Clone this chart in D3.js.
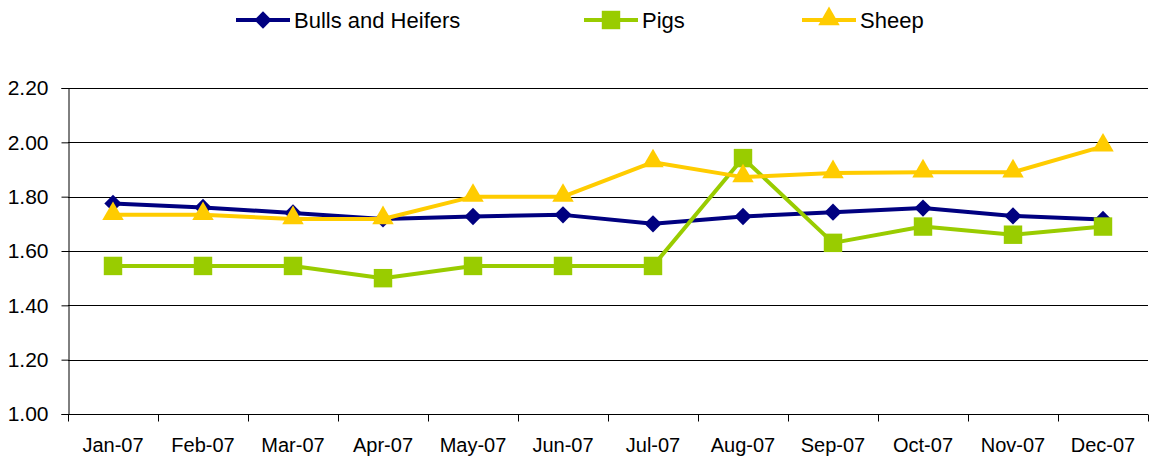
<!DOCTYPE html>
<html>
<head>
<meta charset="utf-8">
<script src="https://cdn.jsdelivr.net/npm/d3@7"></script>
<style>
  body { margin: 0; background: #fff; }
  text { font-family: "Liberation Sans", Arial, sans-serif; fill: #000; }
  .axis path, .axis line { stroke: #000; }
  .grid line { stroke: #000; stroke-width: 1px; }
</style>
</head>
<body>
<div id="chart"></div>
<script>
// data
const months = ['Jan-07', 'Feb-07', 'Mar-07', 'Apr-07', 'May-07', 'Jun-07',
  'Jul-07', 'Aug-07', 'Sep-07', 'Oct-07', 'Nov-07', 'Dec-07'];
const bulls = [1.775, 1.76, 1.74, 1.718, 1.727, 1.733, 1.70, 1.727, 1.743, 1.758, 1.729, 1.716];
const pigs = [1.545, 1.545, 1.545, 1.50, 1.545, 1.545, 1.545, 1.942, 1.63, 1.69, 1.66, 1.69];
const sheep = [1.733, 1.733, 1.718, 1.718, 1.80, 1.80, 1.927, 1.872, 1.887, 1.89, 1.89, 1.985];
const yTicks = [1.0, 1.2, 1.4, 1.6, 1.8, 2.0, 2.2];

const series = [
  { name: 'Bulls and Heifers', values: bulls, color: '#000080', shape: 'diamond', legendX: 236 },
  { name: 'Pigs', values: pigs, color: '#99CC00', shape: 'square', legendX: 584 },
  { name: 'Sheep', values: sheep, color: '#FFCC00', shape: 'triangle', legendX: 802 },
];

const WIDTH = 1154;
const HEIGHT = 460;
const MARGIN_LEFT = 68;
const MARGIN_RIGHT = 6;
const MARGIN_TOP = 88;
const MARGIN_BOTTOM = 46;

const $svg = d3.select('#chart').append('svg')
  .attr('width', WIDTH)
  .attr('height', HEIGHT);

const x = d3.scaleBand()
  .domain(months)
  .range([MARGIN_LEFT, WIDTH - MARGIN_RIGHT]);

const y = d3.scaleLinear()
  .domain([1.0, 2.2])
  .range([HEIGHT - MARGIN_BOTTOM, MARGIN_TOP]);

// gridlines
$svg.append('g').attr('class', 'grid')
  .selectAll('line')
  .data(yTicks.slice(1))
  .join('line')
  .attr('x1', MARGIN_LEFT)
  .attr('x2', WIDTH - MARGIN_RIGHT)
  .attr('y1', d => Math.round(y(d)) + 0.5)
  .attr('y2', d => Math.round(y(d)) + 0.5);

// y axis
const $yAxis = $svg.append('g').attr('class', 'axis')
  .attr('transform', `translate(${MARGIN_LEFT + 0.5},0)`)
  .call(d3.axisLeft(y).tickValues(yTicks).tickFormat(d3.format('.2f')).tickSize(7).tickPadding(13));
$yAxis.selectAll('text').style('font-size', '21px');

// x axis, ticks at band boundaries
const $xAxis = $svg.append('g').attr('class', 'axis')
  .attr('transform', `translate(0,${HEIGHT - MARGIN_BOTTOM + 0.5})`)
  .call(d3.axisBottom(x).tickSize(0).tickPadding(23));
$xAxis.select('.domain').remove();
$xAxis.selectAll('text').style('font-size', '20px');
$xAxis.append('line')
  .attr('x1', MARGIN_LEFT).attr('x2', WIDTH - MARGIN_RIGHT)
  .attr('stroke', '#000');
$xAxis.selectAll('.bound')
  .data(months.concat(['end']))
  .join('line')
  .attr('class', 'bound')
  .attr('x1', (d, i) => Math.round(MARGIN_LEFT + i * x.bandwidth()) + 0.5)
  .attr('x2', (d, i) => Math.round(MARGIN_LEFT + i * x.bandwidth()) + 0.5)
  .attr('y1', 0).attr('y2', 7)
  .attr('stroke', '#000');

const symbols = {
  diamond: d3.symbol().type(d3.symbolSquare).size(150),
  square: d3.symbol().type(d3.symbolSquare).size(340),
  triangle: d3.symbol().type(d3.symbolTriangle).size(200),
};

const line = d3.line()
  .x((d, i) => x(months[i]) + x.bandwidth() / 2)
  .y(d => y(d));

function drawMarker($g, s, cx, cy) {
  const m = $g.append('path')
    .attr('d', symbols[s.shape]())
    .attr('fill', s.color);
  if (s.shape === 'diamond') m.attr('transform', `translate(${cx},${cy}) rotate(45)`);
  else if (s.shape === 'triangle') m.attr('transform', `translate(${cx},${cy - 1})`);
  else m.attr('transform', `translate(${cx},${cy})`);
}

// series lines + markers
series.forEach(s => {
  const $g = $svg.append('g');
  $g.append('path')
    .datum(s.values)
    .attr('d', line)
    .attr('fill', 'none')
    .attr('stroke', s.color)
    .attr('stroke-width', 4)
    .attr('stroke-linejoin', 'round');
  s.values.forEach((v, i) => {
    drawMarker($g, s, x(months[i]) + x.bandwidth() / 2, y(v));
  });
});

// legend
const LEGEND_Y = 20;
series.forEach(s => {
  const $lg = $svg.append('g');
  $lg.append('line')
    .attr('x1', s.legendX).attr('x2', s.legendX + 54)
    .attr('y1', LEGEND_Y).attr('y2', LEGEND_Y)
    .attr('stroke', s.color).attr('stroke-width', 4);
  drawMarker($lg, s, s.legendX + 27, LEGEND_Y);
  $lg.append('text')
    .attr('x', s.legendX + 58)
    .attr('y', LEGEND_Y)
    .attr('dy', '0.36em')
    .style('font-size', '22px')
    .text(s.name);
});
</script>
</body>
</html>
